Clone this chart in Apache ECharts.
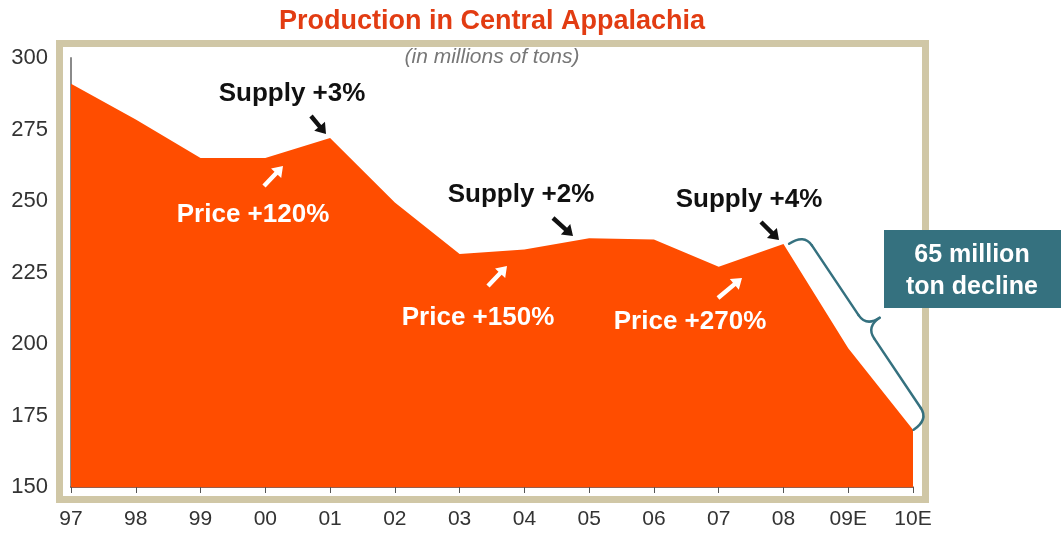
<!DOCTYPE html>
<html>
<head>
<meta charset="utf-8">
<script src="https://cdn.jsdelivr.net/npm/echarts@6/dist/echarts.min.js"></script>
<style>
  html, body { margin: 0; padding: 0; background: #fff; }
  #chart { width: 1061px; height: 534px; }
</style>
</head>
<body>
<div id="chart"></div>
<script>
// ---- data ----
const categories = ['97', '98', '99', '00', '01', '02', '03', '04', '05', '06', '07', '08', '09E', '10E'];
const production = [291, 278.5, 265, 265, 272, 249.5, 231.5, 233, 237, 236.5, 227, 235, 198.5, 170];
const yMin = 150, yMax = 300, yStep = 25;
const titleText = 'Production in Central Appalachia';
const subtitleText = '(in millions of tons)';
const supplyNotes = ['Supply +3%', 'Supply +2%', 'Supply +4%'];
const priceNotes = ['Price +120%', 'Price +150%', 'Price +270%'];
const declineNote = ['65 million', 'ton decline'];

const FONT = '"Liberation Sans", Arial, Helvetica, sans-serif';
const chart = echarts.init(document.getElementById('chart'), null, { renderer: 'canvas' });

chart.setOption({
  animation: false,
  backgroundColor: '#ffffff',
  grid: { left: 71, right: 148, top: 58, bottom: 47, containLabel: false },
  xAxis: {
    type: 'category',
    data: categories,
    boundaryGap: false,
    axisLine: { show: true, lineStyle: { color: '#7a2a10', width: 1.5 } },
    axisTick: { show: true, alignWithLabel: true, length: 6, lineStyle: { color: '#555', width: 1 } },
    axisLabel: { color: '#333', fontSize: 21, fontFamily: FONT, margin: 22 },
    splitLine: { show: false }
  },
  yAxis: {
    type: 'value',
    min: yMin, max: yMax, interval: yStep,
    axisLine: { show: true, lineStyle: { color: '#8a8a8a', width: 2 } },
    axisTick: { show: false },
    axisLabel: { color: '#333', fontSize: 22, fontFamily: FONT, margin: 23 },
    splitLine: { show: false }
  },
  series: [{
    type: 'line',
    data: production,
    symbol: 'none',
    lineStyle: { width: 0 },
    areaStyle: { color: '#ff4d00', opacity: 1 },
    z: 2
  }]
});

function arrow(x1, y1, x2, y2, color) {
  const dx = x2 - x1, dy = y2 - y1;
  const len = Math.sqrt(dx * dx + dy * dy);
  const ux = dx / len, uy = dy / len;
  const px = -uy, py = ux;
  const hl = 10, hw = 7, sw = 2.2;
  const bx = x2 - ux * hl, by = y2 - uy * hl;
  return {
    type: 'polygon',
    shape: { points: [
      [x1 + px * sw, y1 + py * sw],
      [bx + px * sw, by + py * sw],
      [bx + px * hw, by + py * hw],
      [x2, y2],
      [bx - px * hw, by - py * hw],
      [bx - px * sw, by - py * sw],
      [x1 - px * sw, y1 - py * sw]
    ] },
    style: { fill: color },
    z: 10
  };
}

function label(text, x, y, color, size, weight, style, z) {
  return {
    type: 'text',
    z: z || 11,
    style: {
      text: text, x: x, y: y, fill: color,
      font: (style || 'normal') + ' ' + (weight || 'bold') + ' ' + size + 'px ' + FONT,
      align: 'center', verticalAlign: 'middle'
    }
  };
}

// brace from 08 to 10E, offset to the right of the slope
const A0 = chart.convertToPixel({ gridIndex: 0 }, ['08', production[11]]);
const B0 = chart.convertToPixel({ gridIndex: 0 }, ['10E', production[13]]);
const A = [A0[0] + 4, A0[1] + 1];
const B = [B0[0] - 1, B0[1] + 1];
const ex = B[0] - A[0], ey = B[1] - A[1];
const L = Math.sqrt(ex * ex + ey * ey);
const eu = [ex / L, ey / L];
const en = [-eu[1], eu[0]];
const nv = (en[0] > 0) ? en : [-en[0], -en[1]];
function P(u, v) { return [A[0] + u * eu[0] + v * nv[0], A[1] + u * eu[1] + v * nv[1]]; }
const bd = 20, br = 14, btip = 16, bh = L / 2;
const braceStyle = { fill: 'none', stroke: '#35717f', lineWidth: 2.5, lineCap: 'round' };
function quad(p1, c, p2) {
  return { type: 'bezierCurve', shape: { x1: p1[0], y1: p1[1], cpx1: c[0], cpy1: c[1], x2: p2[0], y2: p2[1] }, style: braceStyle, z: 12 };
}
function seg(p1, p2) {
  return { type: 'line', shape: { x1: p1[0], y1: p1[1], x2: p2[0], y2: p2[1] }, style: braceStyle, z: 12 };
}
const braceParts = [
  quad(P(0, 2), P(0, bd), P(br, bd)),
  seg(P(br, bd), P(bh - br, bd)),
  quad(P(bh - br, bd), P(bh, bd), P(bh, bd + btip)),
  quad(P(bh, bd + btip), P(bh, bd), P(bh + br, bd)),
  seg(P(bh + br, bd), P(L - br, bd)),
  quad(P(L - br, bd), P(L, bd), P(L, 2))
];

chart.setOption({
  graphic: [
    { type: 'rect', shape: { x: 59.5, y: 43.5, width: 866, height: 456 }, style: { fill: 'none', stroke: '#d0c7a6', lineWidth: 7 }, z: -1, silent: true },
    label(titleText, 492, 22, '#e23c12', 27, 'bold'),
    label(subtitleText, 492, 57, '#777777', 21, 'normal', 'italic'),
    label(supplyNotes[0], 292, 94, '#111', 26, 'bold'),
    arrow(311, 116, 326, 134, '#111'),
    label(priceNotes[0], 253, 215, '#ffffff', 26, 'bold'),
    arrow(264, 186, 283, 166, '#ffffff'),
    label(supplyNotes[1], 521, 195, '#111', 26, 'bold'),
    arrow(553, 218, 573, 236, '#111'),
    label(priceNotes[1], 478, 318, '#ffffff', 26, 'bold'),
    arrow(488, 286, 507, 266, '#ffffff'),
    label(supplyNotes[2], 749, 200, '#111', 26, 'bold'),
    arrow(761, 222, 779, 240, '#111'),
    label(priceNotes[2], 690, 322, '#ffffff', 26, 'bold'),
    arrow(718, 298, 742, 278, '#ffffff')
  ].concat(braceParts).concat([
    { type: 'rect', shape: { x: 884, y: 230, width: 177, height: 78 }, style: { fill: '#35717f' }, z: 12 },
    label(declineNote[0], 972, 255, '#ffffff', 25, 'bold', 'normal', 14),
    label(declineNote[1], 972, 287, '#ffffff', 25, 'bold', 'normal', 14)
  ])
});
</script>
</body>
</html>
